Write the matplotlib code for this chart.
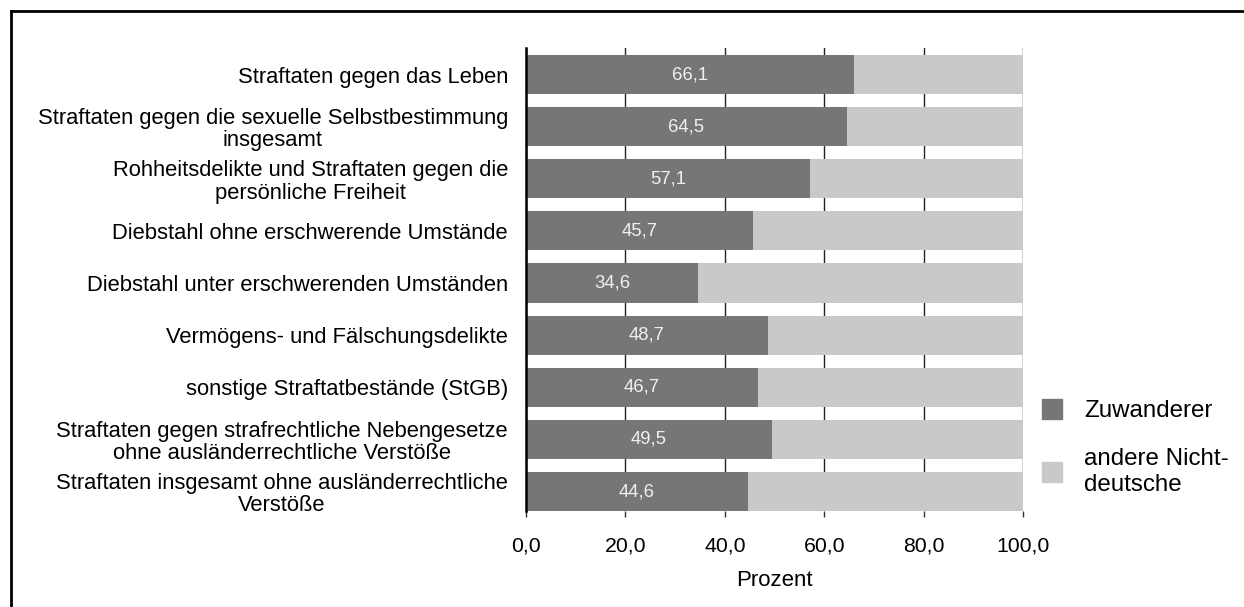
import matplotlib.pyplot as plt
from matplotlib.patches import Patch
from matplotlib.lines import Line2D

plt.rcParams["font.family"] = ["Liberation Sans", "DejaVu Sans"]

# categories, top to bottom
categories = [
    "Straftaten gegen das Leben",
    "Straftaten gegen die sexuelle Selbstbestimmung\ninsgesamt",
    "Rohheitsdelikte und Straftaten gegen die\npersönliche Freiheit",
    "Diebstahl ohne erschwerende Umstände",
    "Diebstahl unter erschwerenden Umständen",
    "Vermögens- und Fälschungsdelikte",
    "sonstige Straftatbestände (StGB)",
    "Straftaten gegen strafrechtliche Nebengesetze\nohne ausländerrechtliche Verstöße",
    "Straftaten insgesamt ohne ausländerrechtliche\nVerstöße",
]
zuwanderer = [66.1, 64.5, 57.1, 45.7, 34.6, 48.7, 46.7, 49.5, 44.6]
andere = [100 - v for v in zuwanderer]

xticks = [0, 20, 40, 60, 80, 100]
xtick_labels = ["0,0", "20,0", "40,0", "60,0", "80,0", "100,0"]

dark = "#767678"
light = "#c9c9c7"

fig = plt.figure(figsize=(12.44, 6.07), dpi=100)
ax = fig.add_axes([0.4228, 0.158, 0.3995, 0.763])

pos = list(range(len(categories)))
ax.barh(pos, zuwanderer, height=0.75, color=dark, zorder=2)
ax.barh(pos, andere, left=zuwanderer, height=0.75, color=light, zorder=2)

# value labels inside the dark part
for y, v in zip(pos, zuwanderer):
    ax.text(v / 2, y, f"{v:.1f}".replace(".", ","), ha="center", va="center",
            color="#f0f0f0", fontsize=13.3, zorder=3)

ax.set_xlim(0, 100)
ax.set_ylim(8.375, -0.51)
ax.set_yticks(pos)
ax.set_yticklabels(categories, fontsize=15.8, linespacing=1.08)
for lbl in ax.get_yticklabels():
    lbl.set_horizontalalignment("right")
    lbl.set_multialignment("center")
ax.tick_params(axis="y", length=0, pad=13)

ax.set_xticks(xticks)
ax.set_xticklabels(xtick_labels, fontsize=15.3)
ax.tick_params(axis="x", length=4.5, width=1, color="#333333", pad=14)
ax.grid(axis="x", color="#222222", linewidth=1, zorder=0)
ax.set_xlabel("Prozent", fontsize=16, labelpad=10)

for s in ["top", "right", "bottom"]:
    ax.spines[s].set_visible(False)
ax.spines["left"].set_linewidth(1.8)
ax.spines["left"].set_color("black")

handles = [Patch(color=dark), Patch(color=light)]
fig.legend(handles, ["Zuwanderer", "andere Nicht-\ndeutsche"], loc="upper left",
           bbox_to_anchor=(0.82, 0.378), frameon=False, fontsize=17.4,
           handlelength=0.85, handleheight=0.85, handletextpad=0.9,
           labelspacing=1.07)

# partial frame around the figure (left and top edges)
fig.add_artist(Line2D([0.0089, 0.0089], [0, 0.982], transform=fig.transFigure,
                      color="black", linewidth=2))
fig.add_artist(Line2D([0.0089, 1.0], [0.982, 0.982], transform=fig.transFigure,
                      color="black", linewidth=2))

fig.savefig("out.png", dpi=100)
